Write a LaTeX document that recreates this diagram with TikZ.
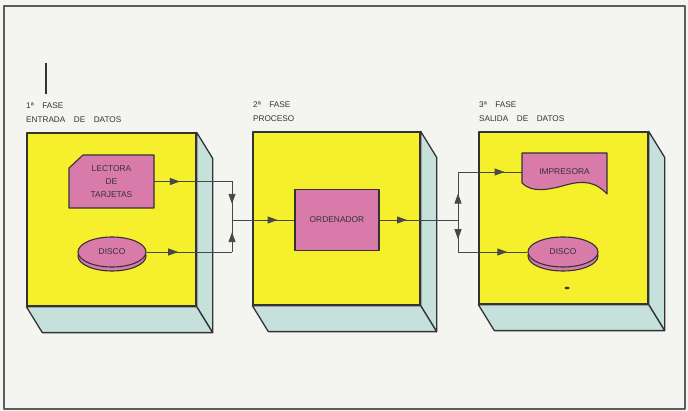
\documentclass[tikz,border=0pt]{standalone}
\usepackage{fontspec}
\setmainfont{Liberation Sans}
\usetikzlibrary{arrows.meta,decorations.markings,shapes.geometric,calc}
\definecolor{bgc}{HTML}{F4F4F1}
\definecolor{yel}{HTML}{F6EF2C}
\definecolor{sidec}{HTML}{C6E0DC}
\definecolor{pinkc}{HTML}{D87AAA}
\definecolor{linec}{HTML}{333333}
\newcommand\mywidesp{\spaceskip=8.5pt\relax}
\begin{document}
\begin{tikzpicture}[x=1pt,y=-1pt,line join=round,
  txt/.style={font=\fontsize{8.4}{13}\selectfont, text=linec, inner sep=0pt},
  lbl/.style={anchor=base west, inner sep=0pt, text=linec, font=\fontsize{8.2}{10}\selectfont\mywidesp},
  frontface/.style={draw=linec, line width=1.3pt, fill=yel, inner sep=0pt},
  sideface/.style={draw=linec, line width=1.3pt, fill=sidec},
  pinkbox/.style={draw=linec, line width=1.1pt, fill=pinkc},
  conn/.style={draw=linec!90, line width=0.9pt},
  tipat/.style={postaction={decorate,decoration={markings,
      mark=at position #1 with {\arrow{Triangle[length=10pt,width=7pt]}}}}}
]
\useasboundingbox (0,0) rectangle (688,411);
\fill[bgc] (0,0) rectangle (688,411);
\draw[draw=linec!80, line width=1.5pt] (4,6) rectangle (685,409);
\draw[linec, line width=1.3pt] (46,63) -- (46,94);

% phase labels
\node[lbl] (p1a) at (26,109) {1ª FASE};
\node[lbl] (p1b) at (26,123) {ENTRADA DE DATOS};
\node[lbl] (p2a) at (253,108) {2ª FASE};
\node[lbl] (p2b) at (253,122) {PROCESO};
\node[lbl] (p3a) at (479,108) {3ª FASE};
\node[lbl] (p3b) at (479,122) {SALIDA DE DATOS};

% boxes
\node[frontface, minimum width=169pt, minimum height=173pt] (f1) at (111.5,219.5) {};
\node[frontface, minimum width=167pt, minimum height=173pt] (f2) at (336.5,218.5) {};
\node[frontface, minimum width=169pt, minimum height=172pt] (f3) at (563.5,218) {};
\foreach \f in {f1,f2,f3}{
  \draw[sideface] (\f.north east) -- ++(16,26) -- ($(\f.south east)+(16,26)$) -- (\f.south east) -- cycle;
  \draw[sideface] (\f.south west) -- (\f.south east) -- ++(16,26) -- ($(\f.south west)+(16,26)$) -- cycle;
}

% lectora de tarjetas (card shape)
\draw[pinkbox] (83,155) -- (154,155) -- (154,208) -- (69,208) -- (69,168) -- cycle;
\node[txt, align=center, minimum width=85pt, minimum height=53pt] (lec) at (111.5,181.5) {LECTORA\\DE\\TARJETAS};

% disco 1
\draw[pinkbox] (112,256) ellipse [x radius=34pt, y radius=15pt];
\node[pinkbox, ellipse, txt, minimum width=68pt, minimum height=30pt] (d1) at (112,252) {DISCO};

% ordenador
\node[pinkbox, txt, minimum width=84pt, minimum height=61pt] (ord) at (337,220) {ORDENADOR};

% impresora (document shape)
\draw[pinkbox] (522,153) -- (607,153) -- (607,194)
  .. controls (596,182) and (584,180) .. (566,185)
  .. controls (548,190) and (532,193) .. (522,183) -- cycle;
\node[txt, minimum width=85pt, minimum height=38pt] (imp) at (564.5,172) {IMPRESORA};

% disco 2
\draw[pinkbox] (563,256) ellipse [x radius=35pt, y radius=15pt];
\node[pinkbox, ellipse, txt, minimum width=70pt, minimum height=30pt] (d2) at (563,252) {DISCO};

% junctions
\coordinate (j1t) at (232,181.5);
\coordinate (j1m) at (232,220);
\coordinate (j1b) at (232,252);
\coordinate (j2t) at (458,172);
\coordinate (j2m) at (458,220);
\coordinate (j2b) at (458,252);

% connectors
\draw[conn, tipat=0.33] (lec.east) -- (j1t);
\draw[conn, tipat=0.37] (d1.east) -- (j1b);
\draw[conn, tipat=0.58] (j1t) -- (j1m);
\draw[conn, tipat=0.62] (j1b) -- (j1m);
\draw[conn, tipat=0.73] (j1m) -- (ord.west);
\draw[conn, tipat=0.35] (ord.east) -- (j2m);
\draw[conn, tipat=0.55] (j2m) -- (j2t);
\draw[conn, tipat=0.6] (j2m) -- (j2b);
\draw[conn, tipat=0.73] (j2t) -- (imp.west);
\draw[conn, tipat=0.71] (j2b) -- (d2.west);

% small mark
\fill[linec] (567,288) ellipse [x radius=2.5pt, y radius=1.3pt];
\end{tikzpicture}
\end{document}
